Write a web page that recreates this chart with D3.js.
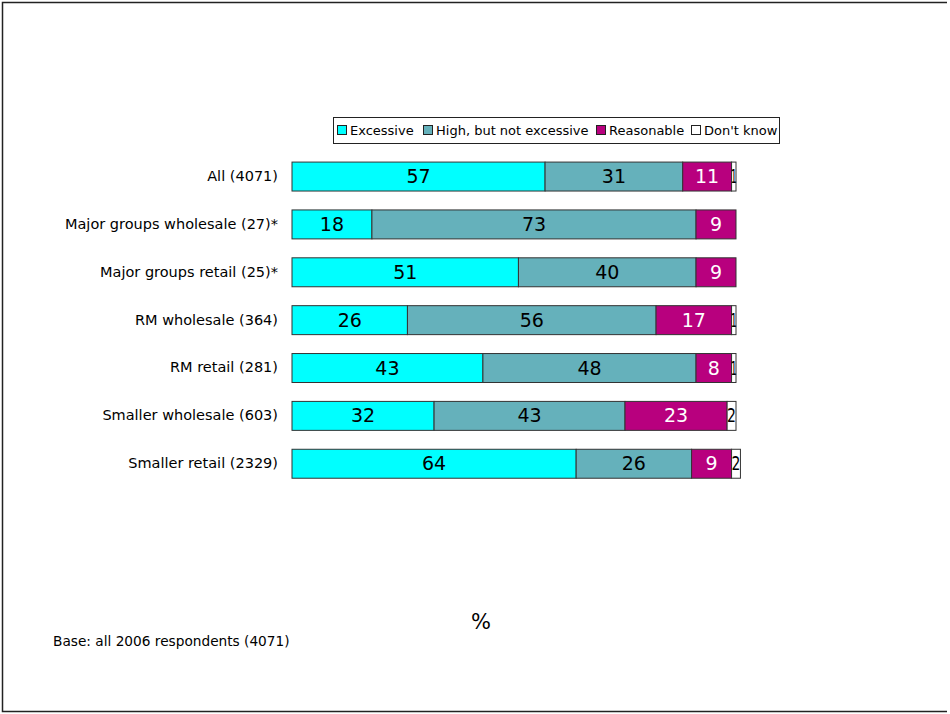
<!DOCTYPE html>
<html><head><meta charset="utf-8">
<script src="https://cdn.jsdelivr.net/npm/d3@7"></script>
<style>body{margin:0;background:#fff}svg{display:block}text{font-family:"DejaVu Sans",Verdana,sans-serif}</style>
</head><body><svg id="c" width="950" height="714"></svg>
<script>
const categories = ["All (4071)","Major groups wholesale (27)*","Major groups retail (25)*","RM wholesale (364)","RM retail (281)","Smaller wholesale (603)","Smaller retail (2329)"];
const seriesNames = ["Excessive","High, but not excessive","Reasonable","Don't know"];
const excessive = [57,18,51,26,43,32,64];
const highNotExcessive = [31,73,40,56,48,43,26];
const reasonable = [11,9,9,17,8,23,9];
const dontKnow = [1,0,0,1,1,2,2];
const colors = ["#00FFFF","#65B1BB","#B8007E","#FFFFFF"];
const labelColors = ["#000","#000","#fff","#000"];

const svg = d3.select("#c");
svg.append("path").attr("d","M947,2.5H2.5V711.5H947").attr("fill","none").attr("stroke","#222").attr("stroke-width",1.5);

const x = d3.scaleLinear().domain([0,100]).range([292,736]);
const y = d3.scaleBand().domain(categories).range([152.5,487.8]).paddingInner(0.395).paddingOuter(0.2);

const series = [excessive,highNotExcessive,reasonable,dontKnow];
const rows = categories.map((c,i)=>{const o={cat:c};seriesNames.forEach((s,j)=>o[s]=series[j][i]);return o;});
const stacked = d3.stack().keys(seriesNames)(rows);

stacked.forEach((layer,j)=>{
  const g = svg.append("g");
  layer.forEach(d=>{
    if(d[1]-d[0]<=0) return;
    const w = x(d[1])-x(d[0]);
    g.append("rect").attr("x",x(d[0])).attr("y",y(d.data.cat)).attr("width",w).attr("height",y.bandwidth())
      .attr("fill",colors[j]).attr("stroke","#333").attr("stroke-width",1);
    const t = g.append("text").attr("x",(x(d[0])+x(d[1]))/2).attr("y",y(d.data.cat)+y.bandwidth()/2+6.5)
      .attr("text-anchor","middle").attr("font-size",19).attr("fill",labelColors[j])
      .text(d[1]-d[0]);
    if (w < 12) t.attr("textLength", Math.max(w,6)).attr("lengthAdjust","spacingAndGlyphs");
  });
});

const yAxis = d3.axisLeft(y).tickSize(0).tickPadding(14);
const ax = svg.append("g").attr("transform","translate(292,0)").call(yAxis);
ax.select(".domain").remove();
ax.selectAll("text").attr("font-size",14.5).attr("fill","#000").attr("dy","0.3em").style("font-family",'"DejaVu Sans",Verdana,sans-serif');

// legend
const lg = svg.append("g");
lg.append("rect").attr("x",333.5).attr("y",117.5).attr("width",446).attr("height",26).attr("fill","#fff").attr("stroke","#222");
const lx = [337,423,596,691];
seriesNames.forEach((s,j)=>{
  lg.append("rect").attr("x",lx[j]+0.5).attr("y",125.5).attr("width",9).attr("height",9).attr("fill",colors[j]).attr("stroke","#222");
  lg.append("text").attr("x",lx[j]+13).attr("y",135).attr("font-size",13).attr("fill","#000").text(s);
});

svg.append("text").attr("x",481).attr("y",629).attr("text-anchor","middle").attr("font-size",21).text("%");
svg.append("text").attr("x",53).attr("y",646).attr("font-size",13.7).text("Base: all 2006 respondents (4071)");
</script></body></html>
